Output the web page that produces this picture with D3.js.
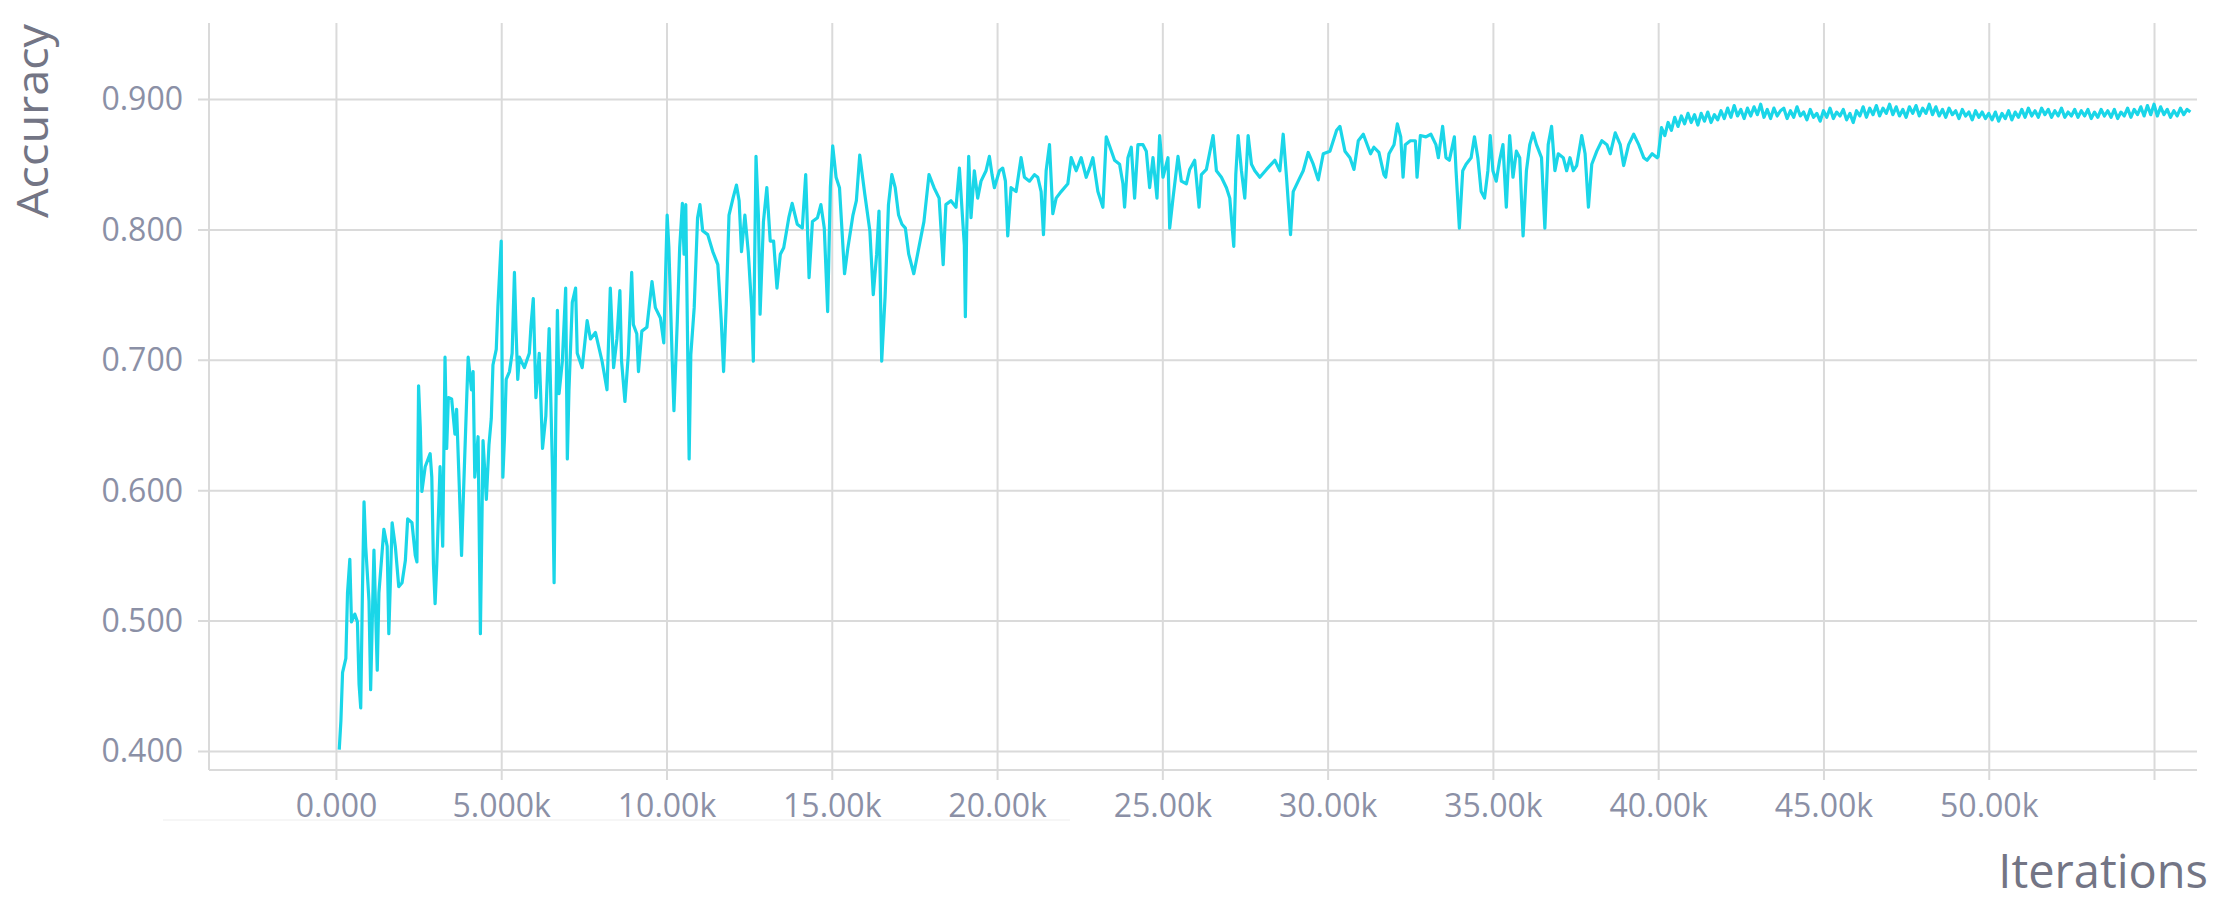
<!DOCTYPE html>
<html>
<head>
<meta charset="utf-8">
<script src="https://cdn.jsdelivr.net/npm/d3@7"></script>
<style>
  html, body { margin: 0; padding: 0; background: #ffffff; }
  svg { display: block; }
</style>
</head>
<body>
<svg id="chart" width="2217" height="903"></svg>
<script>
// ---------------- DATA ----------------
const iterations = [
  100,150,200,300,350,420,470,570,650,700,750,800,850,900,1000,1050,1150,1250,1300,1450,
  1550,1600,1700,1800,1900,2000,2100,2170,2300,2400,2450,2500,2550,2600,2700,2850,2900,2950,3000,3050,
  3150,3230,3300,3350,3400,3500,3600,3650,3730,3800,3850,3950,4000,4100,4150,4200,4300,4370,4450,4550,
  4630,4700,4750,4850,4900,5000,5050,5100,5150,5250,5330,5400,5450,5500,5550,5700,5850,5900,5970,6050,
  6150,6250,6350,6450,6550,6600,6650,6700,6750,6850,6950,7000,7050,7150,7250,7300,7450,7600,7700,7850,
  7950,8050,8200,8300,8400,8500,
  8590,8641,8743,8845,8947,8998,9101,9152,9254,9407,9561,9663,9816,9918,10020,10072,10174,10225,10327,10399,
  10480,10531,10583,10685,10736,10838,10940,11012,11094,11247,11400,11553,11656,11727,11809,11891,12013,12116,12197,12269,
  12371,12473,12575,12627,12708,12780,12831,12933,13035,13138,13240,13342,13444,13546,13700,13802,13955,14108,14211,14313,
  14415,14568,14671,14773,14875,14957,15028,15130,15233,15386,15488,15641,15744,15846,15999,16152,16255,16357,16428,16510,
  16612,16715,16817,16919,17021,17123,17226,17328,17481,17634,17788,17941,18094,18247,18370,18452,18605,18758,18861,18963,
  19010,19041,19081,19142,19212,19313,19414,19515,19667,19768,19848,19919,20071,20172,20253,20323,20424,20576,20727,20828,
  20980,21131,21232,21333,21404,21485,21586,21687,21788,21939,22141,22242,22394,22545,22697,22798,22899,23050,23202,23303,
  23404,23555,23707,23808,23858,23959,24060,24161,24262,24414,24515,24616,24717,24838,24919,25020,25171,25222,25323,25474,
  25575,25727,25828,25979,26111,26181,26333,26535,26636,26787,26939,27040,27161,27222,27292,27393,27494,27595,27696,27797,
  27949,28151,28403,28555,28656,28757,28878,28959,29110,29262,29413,29565,29716,29868,30070,30272,30373,30524,30676,30797,
  30928,31080,
  31299,31400,31552,31704,31755,31857,32009,32110,32212,32282,32350,32502,32654,32705,32806,32972,33124,33276,33350,33479,
  33580,33682,33834,33885,33986,34087,34189,34341,34442,34544,34645,34747,34848,34919,35000,35101,35203,35304,35406,35507,
  35608,35710,35811,35913,36014,36115,36217,36318,36470,36572,36673,36775,36876,36977,37129,37231,37332,37434,37535,37687,
  37789,37890,37991,38143,38296,38448,38549,38701,38853,38955,39107,39259,39411,39563,39664,39817,39969,
  40000,40100,40200,40300,40400,40500,40600,40700,40800,40900,41000,41100,41200,41300,41400,41500,41600,41700,41800,41900,
  42000,42100,42200,42300,42400,42500,42600,42700,42800,42900,43000,43100,43200,43300,43400,43500,43600,43700,
  43800,43900,44000,44100,44200,44300,44400,44500,44600,44700,44800,44900,45000,45100,45200,45300,45400,45500,45600,45700,
  45800,45900,46000,46100,46200,46300,46400,46500,46600,46700,46800,46900,47000,47100,47200,47300,47400,47500,47600,47700,
  47800,47900,48000,48100,48200,48300,48400,48500,48600,48700,48800,48900,49000,49100,49200,49300,49400,49500,49600,49700,
  49800,49900,50000,50100,50200,50300,50400,50500,50600,50700,50800,50900,51000,51100,51200,51300,51400,51500,51600,51700,
  51800,51900,52000,52100,52200,52300,52400,52500,52600,52700,52800,52900,53000,53100,53200,53300,53400,53500,53600,53700,
  53800,53900,54000,54100,54200,54300,54400,54500,54600,54700,54800,54900,55000,55100,55200,55300,55400,55500,55600,55700,
  55800,55900,56000,56100
];
const accuracy = [
  0.401,0.423,0.460,0.471,0.521,0.547,0.499,0.505,0.499,0.451,0.433,0.520,0.591,0.557,0.515,0.447,0.554,0.462,0.521,0.570,
  0.557,0.490,0.575,0.556,0.526,0.529,0.546,0.578,0.575,0.550,0.545,0.680,0.649,0.599,0.618,0.628,0.610,0.543,0.513,0.543,
  0.618,0.557,0.702,0.632,0.671,0.670,0.643,0.662,0.604,0.550,0.591,0.666,0.702,0.677,0.691,0.610,0.641,0.490,0.638,0.593,
  0.635,0.655,0.696,0.708,0.741,0.791,0.610,0.641,0.685,0.691,0.705,0.767,0.721,0.685,0.702,0.694,0.705,0.726,0.747,0.671,
  0.705,0.632,0.657,0.724,0.616,0.529,0.655,0.738,0.674,0.699,0.755,0.624,0.677,0.744,0.755,0.705,0.694,0.730,0.716,0.721,
  0.710,0.699,0.677,0.755,0.694,0.716,
  0.753,0.699,0.668,0.704,0.767,0.727,0.720,0.691,0.722,0.725,0.760,0.740,0.732,0.713,0.811,0.786,0.699,0.661,0.730,0.786,
  0.820,0.781,0.819,0.624,0.704,0.740,0.809,0.819,0.799,0.796,0.783,0.773,0.730,0.691,0.743,0.811,0.824,0.834,0.822,0.783,
  0.811,0.783,0.740,0.699,0.856,0.811,0.735,0.806,0.832,0.791,0.791,0.755,0.781,0.786,0.809,0.820,0.804,0.801,0.842,0.763,
  0.806,0.809,0.819,0.801,0.737,0.832,0.864,0.840,0.832,0.766,0.786,0.811,0.822,0.857,0.827,0.799,0.750,0.781,0.814,0.699,
  0.748,0.819,0.842,0.832,0.811,0.804,0.801,0.781,0.766,0.786,0.806,0.842,0.832,0.824,0.773,0.819,0.822,0.817,0.847,0.806,
  0.788,0.733,0.799,0.856,0.809,0.845,0.824,0.837,0.845,0.856,0.842,0.832,0.845,0.847,0.837,0.795,0.832,0.829,0.855,0.840,
  0.837,0.842,0.840,0.829,0.796,0.845,0.865,0.812,0.824,0.829,0.835,0.855,0.845,0.855,0.840,0.847,0.855,0.829,0.817,0.871,
  0.864,0.853,0.850,0.835,0.817,0.855,0.863,0.824,0.865,0.865,0.860,0.832,0.855,0.824,0.872,0.840,0.855,0.801,0.824,0.856,
  0.837,0.835,0.846,0.853,0.817,0.842,0.846,0.872,0.845,0.840,0.832,0.824,0.787,0.842,0.872,0.845,0.824,0.872,0.850,0.845,
  0.840,0.846,0.853,0.845,0.873,0.840,0.796,0.829,0.837,0.845,0.859,0.850,0.838,0.858,0.860,0.876,0.879,0.860,0.855,0.846,
  0.868,0.873,
  0.858,0.863,0.859,0.842,0.840,0.858,0.865,0.881,0.871,0.840,0.865,0.868,0.868,0.840,0.872,0.871,0.873,0.865,0.855,0.879,
  0.855,0.853,0.871,0.845,0.801,0.845,0.850,0.855,0.871,0.855,0.829,0.824,0.845,0.872,0.845,0.837,0.853,0.865,0.817,0.872,
  0.840,0.860,0.855,0.795,0.845,0.865,0.874,0.865,0.855,0.801,0.865,0.879,0.845,0.858,0.855,0.845,0.855,0.845,0.849,0.872,
  0.858,0.817,0.850,0.860,0.868,0.865,0.858,0.874,0.865,0.849,0.865,0.873,0.865,0.855,0.853,0.858,0.855,
  0.856,0.878,0.872,0.882,0.876,0.886,0.879,0.887,0.881,0.889,0.882,0.888,0.880,0.889,0.883,0.890,0.882,0.888,0.884,0.891,
  0.885,0.893,0.886,0.895,0.887,0.892,0.885,0.893,0.887,0.894,0.888,0.896,0.886,0.892,0.885,0.893,0.887,0.891,
  0.893,0.885,0.891,0.886,0.894,0.887,0.890,0.884,0.892,0.886,0.889,0.883,0.891,0.886,0.893,0.885,0.890,0.887,0.892,0.884,
  0.889,0.882,0.891,0.887,0.894,0.886,0.893,0.888,0.895,0.887,0.893,0.889,0.896,0.888,0.894,0.887,0.892,0.886,0.894,0.889,
  0.895,0.887,0.893,0.889,0.896,0.888,0.894,0.887,0.892,0.886,0.893,0.888,0.891,0.885,0.892,0.887,0.890,0.884,0.891,0.886,
  0.890,0.885,0.889,0.884,0.890,0.883,0.889,0.885,0.891,0.884,0.890,0.886,0.892,0.886,0.893,0.887,0.891,0.886,0.893,0.888,
  0.892,0.886,0.891,0.887,0.893,0.886,0.890,0.887,0.892,0.886,0.891,0.887,0.892,0.885,0.890,0.886,0.892,0.887,0.891,0.886,
  0.892,0.885,0.890,0.887,0.893,0.886,0.892,0.888,0.894,0.887,0.895,0.888,0.896,0.887,0.894,0.888,0.892,0.886,0.891,0.887,
  0.893,0.888,0.892,0.890
];
const xTickValues = [0,5000,10000,15000,20000,25000,30000,35000,40000,45000,50000,55000];
const xTickLabels = ["0.000","5.000k","10.00k","15.00k","20.00k","25.00k","30.00k","35.00k","40.00k","45.00k","50.00k",""];
const yTickValues = [0.4,0.5,0.6,0.7,0.8,0.9];
const yTickLabels = ["0.400","0.500","0.600","0.700","0.800","0.900"];
const xDomain = [-3840, 56300];
const yDomain = [0.3854, 0.9583];
const xTitle = "Iterations";
const yTitle = "Accuracy";

// ---------------- CHART ----------------
const svg = d3.select("#chart");
const plotLeft = 209, plotRight = 2197, plotTop = 23, plotBottom = 770;
const x = d3.scaleLinear().domain(xDomain).range([plotLeft, plotRight]);
const y = d3.scaleLinear().domain(yDomain).range([plotBottom, plotTop]);

const gridColor = "#dadada";
const tickColor = "#8b90a6";
const titleColor = "#737585";
const font = "'Open Sans', 'Noto Sans', sans-serif";

// faint artifact line beneath x labels
svg.append("line").attr("x1", 163).attr("x2", 1070).attr("y1", 820).attr("y2", 820)
  .attr("stroke", "#f3f3f3").attr("stroke-width", 1.5);

// horizontal grid (extends left as tick)
const yAxis = d3.axisLeft(y).tickValues(yTickValues)
  .tickSize(-(plotRight - plotLeft + 11)).tickPadding(0)
  .tickFormat((d, i) => yTickLabels[i]);
const gy = svg.append("g").attr("transform", `translate(${plotLeft - 11},0)`).call(yAxis);
gy.select(".domain").remove();
gy.selectAll(".tick line").attr("stroke", gridColor).attr("stroke-width", 2);
gy.selectAll(".tick text").attr("x", -15).attr("fill", tickColor)
  .style("font-family", font).style("font-size", "32px").attr("dy", "0.34em");

// vertical grid (extends below frame as tick)
const xAxis = d3.axisBottom(x).tickValues(xTickValues)
  .tickSize(-(plotBottom + 10 - plotTop)).tickPadding(0)
  .tickFormat((d, i) => xTickLabels[i]);
const gx = svg.append("g").attr("transform", `translate(0,${plotBottom + 10})`).call(xAxis);
gx.select(".domain").remove();
gx.selectAll(".tick line").attr("stroke", gridColor).attr("stroke-width", 2);
gx.selectAll(".tick text").attr("y", 26).attr("fill", tickColor)
  .style("font-family", font).style("font-size", "32px").attr("dy", "0.34em");

// frame: left and bottom
svg.append("line").attr("x1", x(xDomain[0])).attr("x2", x(xDomain[0]))
  .attr("y1", y(yDomain[1])).attr("y2", y(yDomain[0]))
  .attr("stroke", gridColor).attr("stroke-width", 2);
svg.append("line").attr("x1", x(xDomain[0])).attr("x2", x(xDomain[1]))
  .attr("y1", y(yDomain[0])).attr("y2", y(yDomain[0]))
  .attr("stroke", gridColor).attr("stroke-width", 2);

// data line
const n = Math.min(iterations.length, accuracy.length);
const data = d3.range(n).map(i => ({ it: iterations[i], v: accuracy[i] }));
const line = d3.line().x(d => x(d.it)).y(d => y(d.v));
svg.append("path").datum(data)
  .attr("d", line)
  .attr("fill", "none")
  .attr("stroke", "#1ad6e8")
  .attr("stroke-width", 3.2)
  .attr("stroke-linejoin", "round");

// axis titles
svg.append("text").text(yTitle)
  .attr("transform", `translate(48,121) rotate(-90)`)
  .attr("text-anchor", "middle")
  .attr("textLength", 194).attr("lengthAdjust", "spacingAndGlyphs")
  .attr("fill", titleColor)
  .style("font-family", font).style("font-size", "44px");
svg.append("text").text(xTitle)
  .attr("x", 2208).attr("y", 888)
  .attr("text-anchor", "end")
  .attr("fill", titleColor)
  .style("font-family", font).style("font-size", "47px");
</script>
</body>
</html>
